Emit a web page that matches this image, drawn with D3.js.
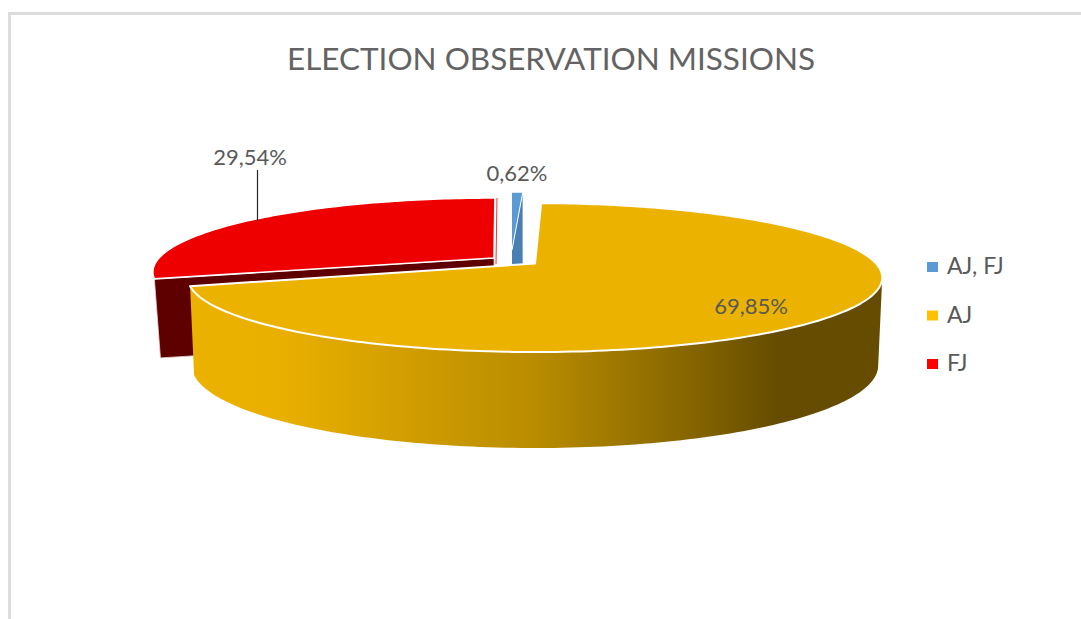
<!DOCTYPE html>
<html>
<head>
<meta charset="utf-8">
<script src="https://cdn.jsdelivr.net/npm/d3@7/dist/d3.min.js"></script>
<style>
  html, body { margin: 0; padding: 0; background: #fff; }
  svg { display: block; }
  text { font-family: Lato, "Open Sans", sans-serif; fill: #595959; }
</style>
</head>
<body>
<svg id="chart" width="1081" height="619"></svg>
<script>
// Election observation missions, share per judge group
const categories = ["AJ, FJ", "AJ", "FJ"];
const shares = [0.62, 69.85, 29.54];
const shareLabels = ["0,62%", "69,85%", "29,54%"];
const titleText = "ELECTION OBSERVATION MISSIONS";
const legendColors = ["#5b9bd5", "#ffc000", "#ff0000"];
const topColors = ["#5b9bd5", "#ecb200", "#ee0000"];
const wallColors = ["#4a7fb3", "url(#wallShade)", "#5f0000"];

const svg = d3.select("#chart");

// Chart frame: only the top and left edges are visible
svg.append("rect").attr("x", 8).attr("y", 12).attr("width", 1073).attr("height", 3).attr("fill", "#dcdcdc");
svg.append("rect").attr("x", 8).attr("y", 12).attr("width", 3).attr("height", 607).attr("fill", "#dcdcdc");

svg.append("text").attr("x", 551).attr("y", 70).attr("text-anchor", "middle")
  .attr("textLength", 528).attr("lengthAdjust", "spacingAndGlyphs")
  .style("font-size", "31px").style("font-weight", 400).style("fill", "#636363").text(titleText);

// Shading along the curved side of the large slice
const defs = svg.append("defs");
const shade = defs.append("linearGradient").attr("id", "wallShade")
  .attr("gradientUnits", "userSpaceOnUse").attr("x1", 190).attr("x2", 880).attr("y1", 0).attr("y2", 0);
[[0, "#ecb200"], [0.14, "#e8af00"], [0.5, "#b98c00"], [0.75, "#806100"], [0.85, "#654c00"], [1, "#654c00"]]
  .forEach(([o, c]) => shade.append("stop").attr("offset", o).attr("stop-color", c));

// Slice angles, clockwise from 12 o'clock, with the first slice starting just left of it
const deg = Math.PI / 180;
const arcs = d3.pie().value(d => d).sort(null).startAngle(-1 * deg).endAngle(2 * Math.PI - 1 * deg)(shares);

// Tilted disc under a perspective view: maps a disc point to the page
const persp = 0.189;
function project(plane, u, v) {
  const w = 1 + persp * v;
  return [plane.x + plane.rx * u / w, plane.y - plane.ry * v / w];
}
// Each slice is pulled away from the centre, so it gets its own top and base planes;
// turn is the small apparent rotation that perspective gives a pulled-out slice
const planes = [
  { turn: 1 * deg, top: { x: 512, y: 250, rx: 325, ry: 68 }, base: { x: 512, y: 330, rx: 325, ry: 68 } },
  { turn: 0, top: { x: 535, y: 263.5, rx: 341, ry: 71.8 }, base: { x: 535, y: 350, rx: 337, ry: 79.5 } },
  { turn: 1.2 * deg, top: { x: 494, y: 258, rx: 335, ry: 71.3 }, base: { x: 495, y: 337, rx: 330, ry: 71.3 } }
];
// Angle at which the disc outline reaches its right-hand extreme
const outlineTurn = Math.acos(-persp);

function rim(plane, a0, a1) {
  const steps = Math.max(2, Math.ceil(Math.abs(a1 - a0) / 0.02));
  return d3.range(steps + 1).map(i => {
    const a = a0 + (a1 - a0) * i / steps;
    return project(plane, Math.sin(a), Math.cos(a));
  });
}
const line = d3.line();

// Back-to-front: red slice, blue sliver, then the large slice on top
[2, 0, 1].forEach(i => {
  const d = arcs[i], p = planes[i];
  const a0 = d.startAngle + p.turn, a1 = d.endAngle + p.turn;
  const g = svg.append("g");
  const apexTop = project(p.top, 0, 0), apexBase = project(p.base, 0, 0);
  const edgeTop = rim(p.top, a0, a1);
  const edgeBase = rim(p.base, a0, a1);
  const endTop = edgeTop[edgeTop.length - 1], endBase = edgeBase[edgeBase.length - 1];
  if (i === 2) {
    // Exposed cut face below the left edge of the red slice
    g.append("path").attr("d", line([edgeTop[0], apexTop, apexBase, edgeBase[0]]) + "Z")
      .attr("fill", wallColors[i]).attr("stroke", "#e8d8d8").attr("stroke-width", 0.8);
    // Thin lit edge along the other cut
    g.append("path").attr("d", line([[endTop[0] + 2, endTop[1]], [apexTop[0] + 2, apexTop[1] + 6]]))
      .attr("fill", "none").attr("stroke", "#ee3030").attr("stroke-width", 1);
  }
  if (i === 1) {
    // Curved outer wall, visible only from the right-hand extreme round to the cut
    const wallTop = rim(p.top, outlineTurn, a1);
    const wallBase = rim(p.base, outlineTurn, a1);
    g.append("path").attr("d", line(wallTop.concat(wallBase.slice().reverse())) + "Z")
      .attr("fill", wallColors[i]);
  }
  if (i === 0) {
    // Cut face of the sliver; its lower part falls behind the large slice
    g.append("path").attr("d", line([apexTop, endTop, endBase, apexBase]) + "Z")
      .attr("fill", wallColors[i]);
    g.append("path").attr("d", line([apexTop].concat(edgeTop)) + "Z").attr("fill", topColors[i]);
    g.append("path").attr("d", line([apexTop, endTop]))
      .attr("fill", "none").attr("stroke", "#fff").attr("stroke-width", 1);
  } else {
    g.append("path").attr("d", line([apexTop].concat(edgeTop)) + "Z")
      .attr("fill", topColors[i]).attr("stroke", "#fff").attr("stroke-width", i === 1 ? 2 : 1.6)
      .attr("stroke-linejoin", "round");
  }
});

// Value labels
svg.append("text").attr("x", 517).attr("y", 181).attr("text-anchor", "middle").style("font-size", "22px").text(shareLabels[0]);
svg.append("text").attr("x", 751).attr("y", 314).attr("text-anchor", "middle").style("font-size", "22px").text(shareLabels[1]);
svg.append("text").attr("x", 250).attr("y", 165).attr("text-anchor", "middle").style("font-size", "22px").text(shareLabels[2]);
svg.append("line").attr("x1", 257.5).attr("x2", 257.5).attr("y1", 170).attr("y2", 221).attr("stroke", "#262626").attr("stroke-width", 1.2);

// Legend
const legendY = d3.scalePoint().domain(categories).range([267, 364]);
categories.forEach((c, i) => {
  const y = legendY(c);
  svg.append("rect").attr("x", 927).attr("y", y - 5).attr("width", 11).attr("height", 10).attr("fill", legendColors[i]);
  svg.append("text").attr("x", 947).attr("y", y + 7).style("font-size", "23px").text(c);
});
</script>
</body>
</html>
